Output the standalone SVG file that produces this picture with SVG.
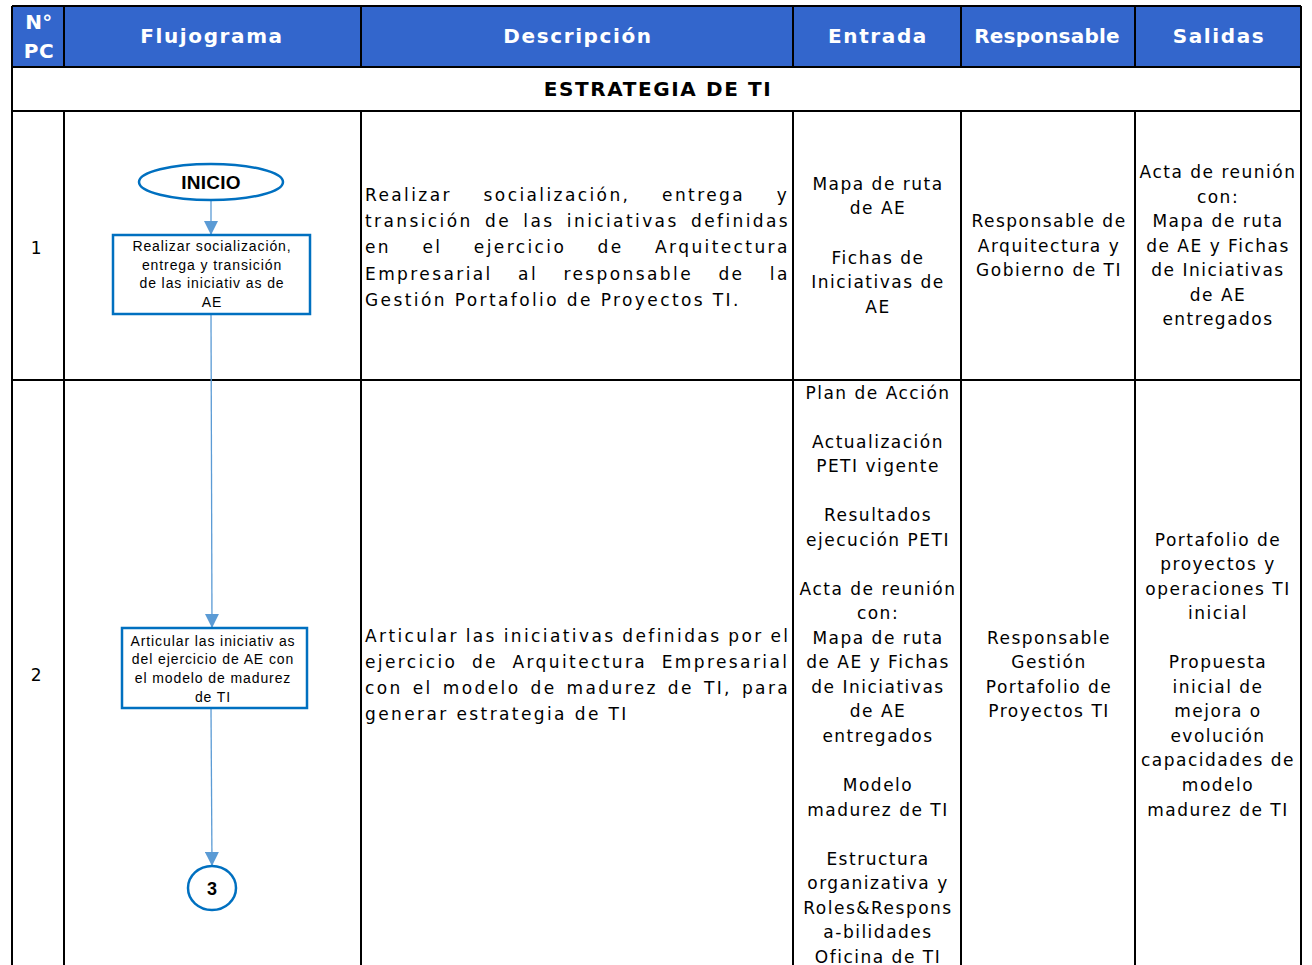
<svg xmlns="http://www.w3.org/2000/svg" width="1312" height="965" viewBox="0 0 1312 965">
<defs>
<style>
.hd{font-family:"DejaVu Sans",Verdana,sans-serif;font-weight:bold;font-size:20px;letter-spacing:1.6px;fill:#fff;text-anchor:middle}
.tt{font-family:"DejaVu Sans",Verdana,sans-serif;font-weight:bold;font-size:20px;letter-spacing:1.6px;fill:#000;text-anchor:middle}
.c{font-family:"DejaVu Sans",Verdana,sans-serif;font-size:17px;letter-spacing:1.5px;fill:#000;text-anchor:middle}
.d{font-family:"DejaVu Sans",Verdana,sans-serif;font-size:17px;letter-spacing:2.4px;fill:#000}
.g{stroke:#000;stroke-width:2;fill:none}
.nd{fill:#fff;stroke:#0070C0;stroke-width:2.5}
.nt{font-family:"Liberation Sans",Arial,sans-serif;font-size:14px;letter-spacing:0.9px;fill:#000;text-anchor:middle}
.ln{stroke:#5B9BD5;stroke-width:1.3;fill:none}
</style>
<marker id="ah" viewBox="0 0 10 10" refX="10" refY="5" markerWidth="14" markerHeight="14" markerUnits="userSpaceOnUse" orient="auto"><path d="M0,0 L10,5 L0,10 z" fill="#5B9BD5"/></marker>
</defs>
<rect width="1312" height="965" fill="#fff"/>
<g id="table">
<rect x="12" y="6" width="1289" height="61" fill="#3366CC"/>
<path class="g" d="M12,6 H1301 M12,67 H1301 M12,111 H1301 M12,380 H1301 M12,6 V965 M1301,6 V965 M64,6 V67 M64,111 V965 M361,6 V67 M361,111 V965 M793,6 V67 M793,111 V965 M961,6 V67 M961,111 V965 M1135,6 V67 M1135,111 V965"/>
<text class="hd" x="39" y="29" style="letter-spacing:0.5px">N°</text>
<text class="hd" x="39" y="58" style="letter-spacing:0.5px">PC</text>
<text class="hd" x="212" y="43">Flujograma</text>
<text class="hd" x="578" y="43">Descripción</text>
<text class="hd" x="878" y="43">Entrada</text>
<text class="hd" x="1047" y="43" style="letter-spacing:0.2px">Responsable</text>
<text class="hd" x="1219" y="43">Salidas</text>
<text class="tt" x="658" y="96">ESTRATEGIA DE TI</text>
<text class="c" x="37" y="254">1</text>
<text class="c" x="37" y="681">2</text>
</g>
<g id="row1">
<text class="d" x="365" y="201" word-spacing="23.9">Realizar socialización, entrega y</text>
<text class="d" x="365" y="227" word-spacing="4.5">transición de las iniciativas definidas</text>
<text class="d" x="365" y="253" word-spacing="23.6">en el ejercicio de Arquitectura</text>
<text class="d" x="365" y="280" word-spacing="17.6">Empresarial al responsable de la</text>
<text class="d" x="365" y="306">Gestión Portafolio de Proyectos TI.</text>
<text class="c" x="878" y="190">Mapa de ruta</text>
<text class="c" x="878" y="214">de AE</text>
<text class="c" x="878" y="264">Fichas de</text>
<text class="c" x="878" y="288">Iniciativas de</text>
<text class="c" x="878" y="313">AE</text>
<text class="c" x="1049" y="227">Responsable de</text>
<text class="c" x="1049" y="252">Arquitectura y</text>
<text class="c" x="1049" y="276">Gobierno de TI</text>
<text class="c" x="1218" y="178">Acta de reunión</text>
<text class="c" x="1218" y="203">con:</text>
<text class="c" x="1218" y="227">Mapa de ruta</text>
<text class="c" x="1218" y="252">de AE y Fichas</text>
<text class="c" x="1218" y="276">de Iniciativas</text>
<text class="c" x="1218" y="301">de AE</text>
<text class="c" x="1218" y="325">entregados</text>
</g>
<g id="row2">
<text class="d" x="365" y="642" word-spacing="-1">Articular las iniciativas definidas por el</text>
<text class="d" x="365" y="668" word-spacing="6.7">ejercicio de Arquitectura Empresarial</text>
<text class="d" x="365" y="694" word-spacing="2.2">con el modelo de madurez de TI, para</text>
<text class="d" x="365" y="720">generar estrategia de TI</text>
<text class="c" x="878" y="399">Plan de Acción</text>
<text class="c" x="878" y="448">Actualización</text>
<text class="c" x="878" y="472">PETI vigente</text>
<text class="c" x="878" y="521">Resultados</text>
<text class="c" x="878" y="546">ejecución PETI</text>
<text class="c" x="878" y="595">Acta de reunión</text>
<text class="c" x="878" y="619">con:</text>
<text class="c" x="878" y="644">Mapa de ruta</text>
<text class="c" x="878" y="668">de AE y Fichas</text>
<text class="c" x="878" y="693">de Iniciativas</text>
<text class="c" x="878" y="717">de AE</text>
<text class="c" x="878" y="742">entregados</text>
<text class="c" x="878" y="791">Modelo</text>
<text class="c" x="878" y="816">madurez de TI</text>
<text class="c" x="878" y="865">Estructura</text>
<text class="c" x="878" y="889">organizativa y</text>
<text class="c" x="878" y="914">Roles&amp;Respons</text>
<text class="c" x="878" y="938">a-bilidades</text>
<text class="c" x="878" y="963">Oficina de TI</text>
<text class="c" x="1049" y="644">Responsable</text>
<text class="c" x="1049" y="668">Gestión</text>
<text class="c" x="1049" y="693">Portafolio de</text>
<text class="c" x="1049" y="717">Proyectos TI</text>
<text class="c" x="1218" y="546">Portafolio de</text>
<text class="c" x="1218" y="570">proyectos y</text>
<text class="c" x="1218" y="595">operaciones TI</text>
<text class="c" x="1218" y="619">inicial</text>
<text class="c" x="1218" y="668">Propuesta</text>
<text class="c" x="1218" y="693">inicial de</text>
<text class="c" x="1218" y="717">mejora o</text>
<text class="c" x="1218" y="742">evolución</text>
<text class="c" x="1218" y="766">capacidades de</text>
<text class="c" x="1218" y="791">modelo</text>
<text class="c" x="1218" y="816">madurez de TI</text>
</g>
<g id="connectors">
<line class="ln" x1="211" y1="200" x2="211" y2="235" marker-end="url(#ah)"/>
<line class="ln" x1="211" y1="314" x2="212" y2="628" marker-end="url(#ah)"/>
<line class="ln" x1="211" y1="708" x2="212" y2="866" marker-end="url(#ah)"/>
</g>
<g id="n-inicio">
<ellipse class="nd" cx="211" cy="182" rx="72" ry="18"/>
<text x="211" y="189" font-family="'Liberation Sans',Arial,sans-serif" font-weight="bold" font-size="19" text-anchor="middle" letter-spacing="0.2">INICIO</text>
</g>
<g id="n-box1">
<rect class="nd" x="113" y="235" width="197" height="79"/>
<text class="nt" x="212" y="251">Realizar socialización,</text>
<text class="nt" x="212" y="270">entrega y transición</text>
<text class="nt" x="212" y="288">de las iniciativ as de</text>
<text class="nt" x="212" y="307">AE</text>
</g>
<g id="n-box2">
<rect class="nd" x="122" y="628" width="185" height="80"/>
<text class="nt" x="213" y="646">Articular las iniciativ as</text>
<text class="nt" x="213" y="664">del ejercicio de AE con</text>
<text class="nt" x="213" y="683">el modelo de madurez</text>
<text class="nt" x="213" y="702">de TI</text>
</g>
<g id="n-3">
<ellipse class="nd" cx="212" cy="888" rx="24" ry="22"/>
<text x="212" y="895" font-family="'Liberation Sans',Arial,sans-serif" font-weight="bold" font-size="18" text-anchor="middle">3</text>
</g>
</svg>
